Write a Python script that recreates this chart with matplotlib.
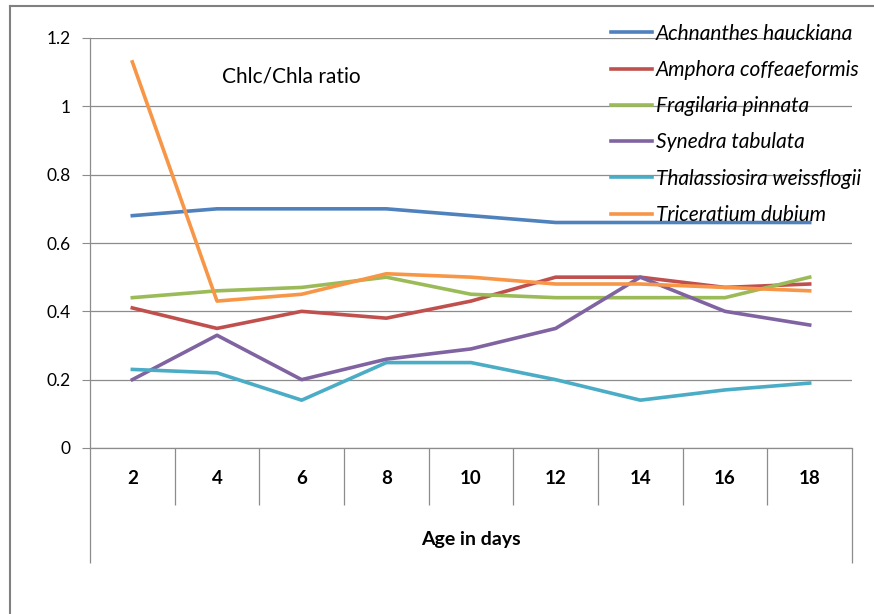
import numpy as np
import matplotlib.pyplot as plt
from matplotlib.lines import Line2D
import matplotlib.transforms as mtransforms

plt.rcParams['font.family'] = ['Lato', 'DejaVu Sans']

days = ['2', '4', '6', '8', '10', '12', '14', '16', '18']
achnanthes = [0.68, 0.70, 0.70, 0.70, 0.68, 0.66, 0.66, 0.66, 0.66]
amphora = [0.41, 0.35, 0.40, 0.38, 0.43, 0.50, 0.50, 0.47, 0.48]
fragilaria = [0.44, 0.46, 0.47, 0.50, 0.45, 0.44, 0.44, 0.44, 0.50]
synedra = [0.20, 0.33, 0.20, 0.26, 0.29, 0.35, 0.50, 0.40, 0.36]
thalassiosira = [0.23, 0.22, 0.14, 0.25, 0.25, 0.20, 0.14, 0.17, 0.19]
triceratium = [1.13, 0.43, 0.45, 0.51, 0.50, 0.48, 0.48, 0.47, 0.46]

series = [
    ('Achnanthes hauckiana', achnanthes, '#4F81BD'),
    ('Amphora coffeaeformis', amphora, '#C0504D'),
    ('Fragilaria pinnata', fragilaria, '#9BBB59'),
    ('Synedra tabulata', synedra, '#8064A2'),
    ('Thalassiosira weissflogii', thalassiosira, '#4BACC6'),
    ('Triceratium dubium', triceratium, '#F79646'),
]

W, H = 874, 614
fig = plt.figure(figsize=(W / 100, H / 100), dpi=100)
ax = fig.add_axes([90 / W, 1 - 448 / H, (852 - 90) / W, (448 - 38) / H])

x = np.arange(1, len(days) + 1)
for name, vals, col in series:
    ax.plot(x, vals, color=col, lw=2.6, label=name)

grid_col = '#8C8C8C'
ax.set_xlim(0.5, len(days) + 0.5)
ax.set_ylim(0, 1.2)
ax.set_yticks(np.arange(0, 1.21, 0.2))
ax.set_yticklabels(['0', '0.2', '0.4', '0.6', '0.8', '1', '1.2'], fontsize=12.5)
ax.yaxis.grid(True, color=grid_col, lw=0.9)
ax.set_axisbelow(True)
ax.tick_params(axis='y', length=6, color=grid_col, pad=8)
ax.set_xticks(x)
ax.set_xticklabels(days, fontsize=13.5, fontweight='bold')
ax.tick_params(axis='x', length=0, pad=16)
for s in ['top', 'right']:
    ax.spines[s].set_visible(False)
for s in ['left', 'bottom']:
    ax.spines[s].set_color(grid_col)
    ax.spines[s].set_linewidth(0.9)

# category separators and outer frame of the axis title row
trans = mtransforms.blended_transform_factory(ax.transData, ax.transAxes)
ax.vlines(np.arange(1.5, len(days)), 0, -57 / 410, transform=trans,
          color=grid_col, lw=0.9, clip_on=False)
ax.vlines([0.5, len(days) + 0.5], 0, -115 / 410, transform=trans,
          color=grid_col, lw=0.9, clip_on=False)
ax.text(0.5, -92 / 410, 'Age in days', transform=ax.transAxes,
        ha='center', va='center', fontsize=14, fontweight='bold')

ax.text(0.173, 0.905, 'Chlc/Chla ratio', transform=ax.transAxes,
        ha='left', va='center', fontsize=15)

leg = ax.legend(loc='upper left', bbox_to_anchor=(592 / W, 1 - 5 / H),
                bbox_transform=fig.transFigure, frameon=False,
                prop={'style': 'italic', 'size': 15},
                handlelength=2.0, handletextpad=0.15, labelspacing=0.78)

# chart area border
border = '#808080'
fig.add_artist(Line2D([10 / W, 10 / W], [0, 1 - 6 / H], color=border, lw=1.5))
fig.add_artist(Line2D([10 / W, 1], [1 - 6 / H, 1 - 6 / H], color=border, lw=1.5))

fig.savefig('out.png', dpi=100)
